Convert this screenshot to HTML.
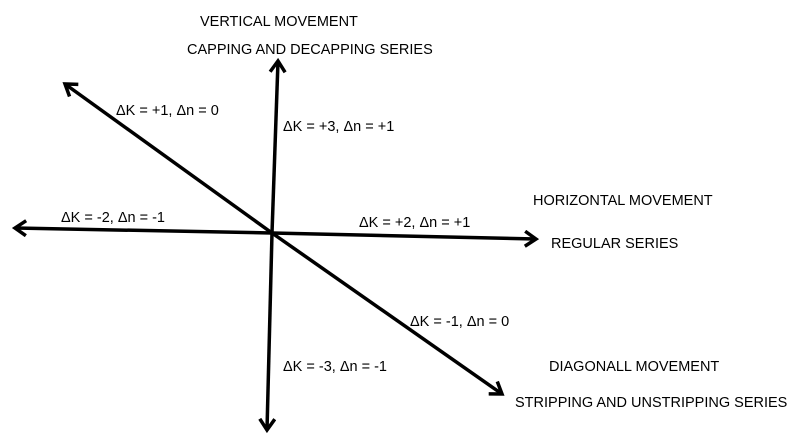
<!DOCTYPE html>
<html><head><style>
html,body{margin:0;padding:0;background:#fff;}
svg text{font-family:"Liberation Sans",sans-serif;font-size:14.5px;fill:#000;}
</style></head><body>
<svg width="796" height="438" viewBox="0 0 796 438" xmlns="http://www.w3.org/2000/svg">
<defs>
<marker id="a" markerWidth="18" markerHeight="18" refX="14" refY="9" orient="auto" markerUnits="userSpaceOnUse">
<path d="M3,1.5 L14,9 L3,16.5" fill="none" stroke="#000" stroke-width="3.5"/>
</marker>
</defs>
<g stroke="#000" stroke-width="3.5" fill="none">
<line x1="272" y1="233" x2="65" y2="84" marker-end="url(#a)"/>
<line x1="272" y1="233" x2="502" y2="394" marker-end="url(#a)"/>
<line x1="272" y1="233" x2="278" y2="61" marker-end="url(#a)"/>
<line x1="272" y1="233" x2="267" y2="430" marker-end="url(#a)"/>
<line x1="272" y1="233" x2="15" y2="228" marker-end="url(#a)"/>
<line x1="272" y1="233" x2="536" y2="239" marker-end="url(#a)"/>
</g>
<text x="200" y="26">VERTICAL MOVEMENT</text>
<text x="187" y="54">CAPPING AND DECAPPING SERIES</text>
<text x="116" y="115">ΔK = +1, Δn = 0</text>
<text x="283" y="131">ΔK = +3, Δn = +1</text>
<text x="61" y="222">ΔK = -2, Δn = -1</text>
<text x="359" y="227">ΔK = +2, Δn = +1</text>
<text x="533" y="205">HORIZONTAL MOVEMENT</text>
<text x="551" y="248">REGULAR SERIES</text>
<text x="410" y="326">ΔK = -1, Δn = 0</text>
<text x="283" y="371">ΔK = -3, Δn = -1</text>
<text x="549" y="371">DIAGONALL MOVEMENT</text>
<text x="515" y="407">STRIPPING AND UNSTRIPPING SERIES</text>
</svg>
</body></html>
